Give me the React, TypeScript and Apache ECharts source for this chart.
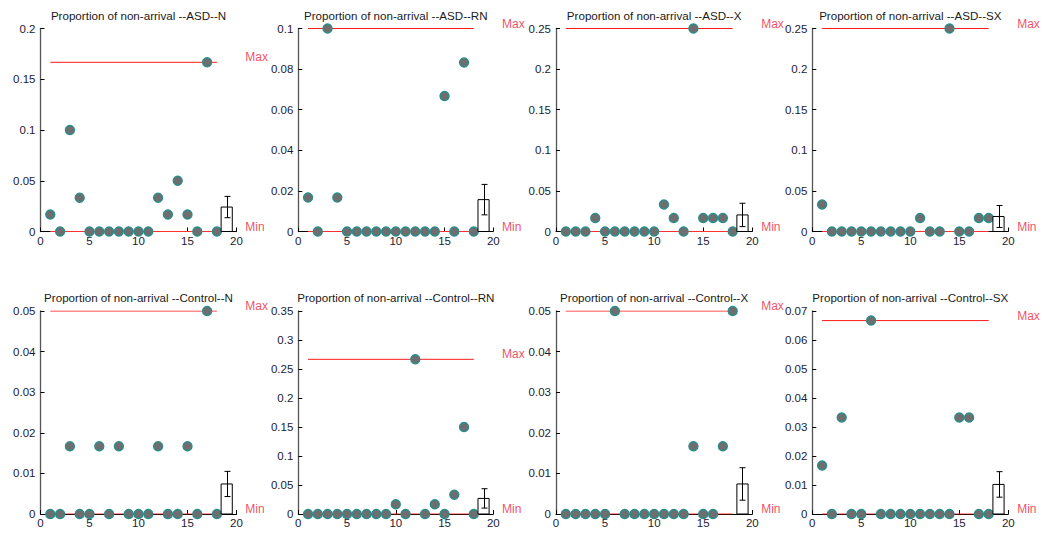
import React, { useEffect, useRef } from "react";
import * as echarts from "echarts";

const subjects = [1, 2, 3, 4, 5, 6, 7, 8, 9, 10, 11, 12, 13, 14, 15, 16, 17, 18];

const titles = [
  "Proportion of non-arrival --ASD--N",
  "Proportion of non-arrival --ASD--RN",
  "Proportion of non-arrival --ASD--X",
  "Proportion of non-arrival --ASD--SX",
  "Proportion of non-arrival --Control--N",
  "Proportion of non-arrival --Control--RN",
  "Proportion of non-arrival --Control--X",
  "Proportion of non-arrival --Control--SX",
];

const asdN = [0.0167, 0, 0.1, 0.0333, 0, 0, 0, 0, 0, 0, 0, 0.0333, 0.0167, 0.05, 0.0167, 0, 0.1667, 0];
const asdRN = [0.0167, 0, 0.1, 0.0167, 0, 0, 0, 0, 0, 0, 0, 0, 0, 0, 0.0667, 0, 0.0833, 0];
const asdX = [0, 0, 0, 0.0167, 0, 0, 0, 0, 0, 0, 0.0333, 0.0167, 0, 0.25, 0.0167, 0.0167, 0.0167, 0];
const asdSX = [0.0333, 0, 0, 0, 0, 0, 0, 0, 0, 0, 0.0167, 0, 0, 0.25, 0, 0, 0.0167, 0.0167];
const ctlN = [0, 0, 0.0167, 0, 0, 0.0167, 0, 0.0167, 0, 0, 0, 0.0167, 0, 0, 0.0167, 0, 0.05, 0];
const ctlRN = [0, 0, 0, 0, 0, 0, 0, 0, 0, 0.0167, 0, 0.2667, 0, 0.0167, 0, 0.0333, 0.15, 0];
const ctlX = [0, 0, 0, 0, 0, 0.05, 0, 0, 0, 0, 0, 0, 0, 0.0167, 0, 0, 0.0167, 0.05];
const ctlSX = [0.0167, 0, 0.0333, 0, 0, 0.0667, 0, 0, 0, 0, 0, 0, 0, 0, 0.0333, 0.0333, 0, 0];

const seriesValues = [asdN, asdRN, asdX, asdSX, ctlN, ctlRN, ctlX, ctlSX];

const barMeans = [0.0241, 0.0157, 0.0204, 0.0185, 0.0074, 0.0269, 0.0074, 0.0102];
const barErrors = [0.0105, 0.0075, 0.0144, 0.0135, 0.0031, 0.0167, 0.004, 0.0044];
const maxValues = [0.1667, 0.1, 0.25, 0.25, 0.05, 0.2667, 0.05, 0.0667];
const minValues = [0, 0, 0, 0, 0, 0, 0, 0];

const yMaxes = [0.2, 0.1, 0.25, 0.25, 0.05, 0.35, 0.05, 0.07];
const yIntervals = [0.05, 0.02, 0.05, 0.05, 0.01, 0.05, 0.01, 0.01];
const xTicks = [0, 5, 10, 15, 20];

const colLefts = [40.5, 298.3, 556, 812.3];
const colWidths = [196, 195, 196.3, 196];
const rowTops = [28.5, 311];
const rowHeight = 203;

const FONT = "Liberation Sans, Arial, sans-serif";

export default function App() {
  const ref = useRef<HTMLDivElement>(null);
  useEffect(() => {
    if (!ref.current) return;
    const chart = echarts.init(ref.current, null, { renderer: "svg" });
    const grids: any[] = [];
    const xAxes: any[] = [];
    const yAxes: any[] = [];
    const series: any[] = [];
    const graphics: any[] = [];

    for (let i = 0; i < 8; i++) {
      const col = i % 4;
      const row = Math.floor(i / 4);
      const left = colLefts[col];
      const width = colWidths[col];
      const top = rowTops[row];
      grids.push({ left, top, width, height: rowHeight, containLabel: false });
      xAxes.push({
        type: "value",
        gridIndex: i,
        min: xTicks[0],
        max: xTicks[xTicks.length - 1],
        interval: 5,
        splitLine: { show: false },
        axisLine: { show: true, onZero: false, lineStyle: { color: "#000", width: 1 } },
        axisTick: { show: true, inside: true, length: 4, lineStyle: { color: "#000" } },
        axisLabel: { fontSize: 11.5, color: "#1c1c34", fontFamily: FONT, margin: 3 },
      });
      yAxes.push({
        type: "value",
        gridIndex: i,
        min: 0,
        max: yMaxes[i],
        interval: yIntervals[i],
        splitLine: { show: false },
        axisLine: { show: true, lineStyle: { color: "#555", width: 1.3 } },
        axisTick: { show: true, inside: true, length: 4, lineStyle: { color: "#000" } },
        axisLabel: { fontSize: 11.5, color: "#1c1c34", fontFamily: FONT, margin: 5 },
      });
      graphics.push({
        type: "text",
        x: left + width / 2,
        y: row === 0 ? 15 : 297,
        style: {
          text: titles[i],
          textAlign: "center",
          textVerticalAlign: "middle",
          font: `11.6px ${FONT}`,
          fill: "#1a1a1a",
        },
      });

      const pts = subjects.map((s, k) => [s, seriesValues[i][k]]);
      const first = subjects[0];
      const last = subjects[subjects.length - 1];

      series.push({
        type: "line",
        xAxisIndex: i,
        yAxisIndex: i,
        data: [
          [first, maxValues[i]],
          [last, maxValues[i]],
        ],
        symbol: "none",
        lineStyle: { color: "#ff1a1a", width: 1 },
        z: 3,
      });
      series.push({
        type: "line",
        xAxisIndex: i,
        yAxisIndex: i,
        data: [
          [first, minValues[i]],
          [last, minValues[i]],
        ],
        symbol: "none",
        lineStyle: { color: "#ff3030", width: 1 },
        z: 3,
      });
      series.push({
        type: "scatter",
        xAxisIndex: i,
        yAxisIndex: i,
        data: [
          { value: [20.85, maxValues[i]], label: { formatter: "Max" } },
          { value: [20.85, minValues[i]], label: { formatter: "Min" } },
        ],
        symbolSize: 1,
        itemStyle: { color: "rgba(0,0,0,0)" },
        clip: false,
        silent: true,
        label: {
          show: true,
          position: "right",
          distance: 0,
          offset: [0, -5],
          color: "#ee1c3c",
          fontSize: 12,
          fontFamily: FONT,
        },
        z: 4,
      });
      series.push({
        type: "scatter",
        xAxisIndex: i,
        yAxisIndex: i,
        data: pts,
        symbolSize: 9,
        itemStyle: { color: "#6e6e6e", borderColor: "#2b8c8c", borderWidth: 1.4, opacity: 1 },
        clip: false,
        z: 5,
      });
      series.push({
        type: "custom",
        xAxisIndex: i,
        yAxisIndex: i,
        data: [[19, barMeans[i], barErrors[i]]],
        encode: { x: 0, y: 1 },
        clip: false,
        z: 6,
        renderItem: (params: any, api: any) => {
          const x = api.value(0);
          const m = api.value(1);
          const e = api.value(2);
          const base = api.coord([x, 0]);
          const topP = api.coord([x, m]);
          const l = api.coord([x - 0.57, m])[0];
          const r = api.coord([x + 0.57, m])[0];
          const hi = api.coord([x, m + e]);
          const lo = api.coord([x, m - e]);
          const cx = Math.round(topP[0]) + 0.5;
          return {
            type: "group",
            children: [
              {
                type: "rect",
                shape: { x: l, y: topP[1], width: r - l, height: base[1] - topP[1] },
                style: { fill: "#fff", stroke: "#000", lineWidth: 1 },
              },
              {
                type: "line",
                shape: { x1: cx, y1: hi[1], x2: cx, y2: lo[1] },
                style: { stroke: "#000", lineWidth: 1 },
              },
              {
                type: "line",
                shape: { x1: cx - 3, y1: hi[1], x2: cx + 3, y2: hi[1] },
                style: { stroke: "#000", lineWidth: 1 },
              },
              {
                type: "line",
                shape: { x1: cx - 3, y1: lo[1], x2: cx + 3, y2: lo[1] },
                style: { stroke: "#000", lineWidth: 1 },
              },
            ],
          };
        },
      });
    }

    chart.setOption({
      animation: false,
      backgroundColor: "#fff",
      grid: grids,
      xAxis: xAxes,
      yAxis: yAxes,
      series,
      graphic: graphics,
    });
    return () => chart.dispose();
  }, []);

  return (
    <div
      ref={ref}
      style={{ position: "fixed", left: 0, top: 0, width: 1042, height: 534, background: "#fff" }}
    />
  );
}
